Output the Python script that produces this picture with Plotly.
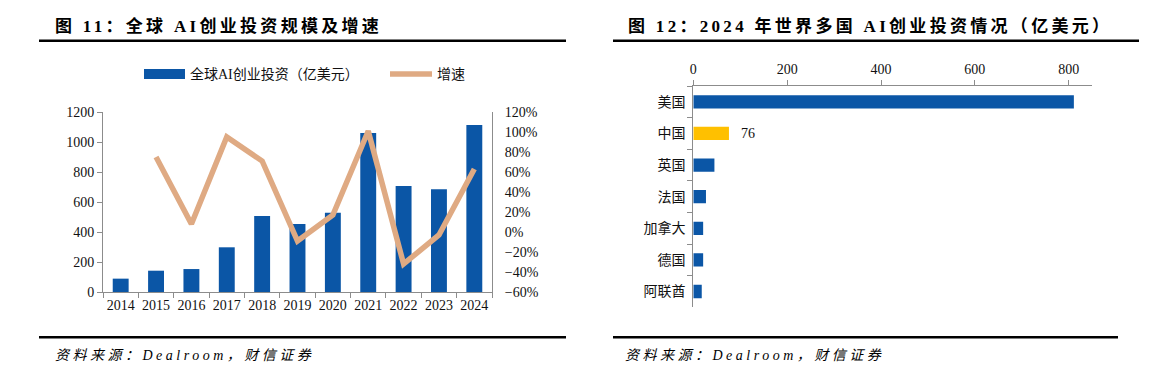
import plotly.graph_objects as go

# ---------------- data ----------------
years = ["2014", "2015", "2016", "2017", "2018", "2019", "2020", "2021", "2022", "2023", "2024"]
invest = [89, 142, 153, 298, 507, 453, 529, 1060, 707, 685, 1113]          # 亿美元
growth = [None, 75, 8, 95, 71, -9, 17, 101, -32, -3, 63]                    # %

countries = ["美国", "中国", "英国", "法国", "加拿大", "德国", "阿联酋"]
country_invest = [811, 76, 45, 27, 21, 21, 18]                              # 亿美元

left_title = "图 11：全球 AI创业投资规模及增速"
right_title = "图 12：2024 年世界多国 AI创业投资情况（亿美元）"
source_text = "资料来源：Dealroom，财信证券"
legend_bar = "全球AI创业投资（亿美元）"
legend_line = "增速"

# ---------------- style ----------------
W, H = 1176, 385
BLUE = "#0B56A6"
GOLD = "#FFC000"
TAN = "#DFAA83"
AXIS = "#8C8C8C"
SERIF_CJK = "Liberation Serif, Noto Sans CJK SC"
TXT = "#111111"


def px(x):
    return x / W


def py(y):
    return 1 - y / H


fig = go.Figure()

fig.add_trace(go.Bar(x=years, y=invest, marker=dict(color=BLUE, line=dict(width=0)),
                     xaxis="x", yaxis="y", showlegend=False))
fig.add_trace(go.Scatter(x=years, y=growth, mode="lines", line=dict(color=TAN, width=5.5),
                         xaxis="x", yaxis="y2", showlegend=False))

colors = [GOLD if c == "中国" else BLUE for c in countries]
fig.add_trace(go.Bar(y=countries, x=country_invest, orientation="h",
                     marker=dict(color=colors, line=dict(width=0)),
                     xaxis="x3", yaxis="y3", showlegend=False))

tickfont = dict(family="Liberation Serif", size=14, color=TXT)

fig.update_layout(
    width=W, height=H, margin=dict(l=0, r=0, t=0, b=0, autoexpand=False),
    paper_bgcolor="white", plot_bgcolor="white",
    bargap=0.55,
    xaxis=dict(domain=[px(103), px(492)], anchor="y", type="category", automargin=False,
               tickangle=0,
               showline=True, linecolor=AXIS, linewidth=1, ticks="outside", tickson="boundaries",
               ticklen=5, tickcolor=AXIS, tickfont=tickfont, showgrid=False, zeroline=False),
    yaxis=dict(domain=[py(292), py(112)], anchor="x", range=[0, 1200], dtick=200, automargin=False,
               showline=True, linecolor=AXIS, ticks="outside", ticklen=5, tickcolor=AXIS,
               tickfont=tickfont, showgrid=False, zeroline=False),
    yaxis2=dict(overlaying="y", side="right", anchor="x", range=[-60, 120], dtick=20,
                automargin=False,
                ticksuffix="%", showline=True, linecolor=AXIS, ticks="", ticklabelstandoff=9,
                tickfont=tickfont, showgrid=False, zeroline=False),
    xaxis3=dict(domain=[px(693.3), px(1091.7)], anchor="y3", side="top", range=[0, 849],
                automargin=False, tickangle=0,
                tickvals=[0, 200, 400, 600, 800], showline=True, linecolor=AXIS,
                ticks="outside", ticklen=5, tickcolor=AXIS, tickfont=tickfont,
                showgrid=False, zeroline=False),
    yaxis3=dict(domain=[py(307.3), py(86)], anchor="x3", type="category", autorange="reversed",
                automargin=False,
                showline=True, linecolor=AXIS, ticks="outside", tickson="boundaries", ticklen=5,
                tickcolor=AXIS, ticklabelstandoff=4,
                tickfont=dict(family=SERIF_CJK, size=14, color=TXT), showgrid=False, zeroline=False),
)
fig.update_traces(width=0.42, selector=dict(xaxis="x3"))

shapes = [
    # title underlines
    dict(type="rect", xref="paper", yref="paper", x0=px(39), x1=px(566), y0=py(42), y1=py(39.5),
         fillcolor="black", line=dict(width=0), layer="above"),
    dict(type="rect", xref="paper", yref="paper", x0=px(613), x1=px(1139), y0=py(42), y1=py(39.5),
         fillcolor="black", line=dict(width=0), layer="above"),
    # source lines
    dict(type="rect", xref="paper", yref="paper", x0=px(39), x1=px(566), y0=py(338.5), y1=py(336),
         fillcolor="black", line=dict(width=0), layer="above"),
    dict(type="rect", xref="paper", yref="paper", x0=px(613), x1=px(1118), y0=py(338.5), y1=py(336),
         fillcolor="black", line=dict(width=0), layer="above"),
    # legend swatches
    dict(type="rect", xref="paper", yref="paper", x0=px(144), x1=px(185), y0=py(79), y1=py(69),
         fillcolor=BLUE, line=dict(width=0)),
    dict(type="line", xref="paper", yref="paper", x0=px(390), x1=px(432), y0=py(74), y1=py(74),
         line=dict(color=TAN, width=5.5)),
]

annotations = [
    dict(text=left_title, x=px(53), y=py(26), xref="paper", yref="paper", xanchor="left",
         yanchor="middle", showarrow=False,
         font=dict(family=SERIF_CJK, size=17, color="black", weight="bold")),
    dict(text=right_title, x=px(626), y=py(26), xref="paper", yref="paper", xanchor="left",
         yanchor="middle", showarrow=False,
         font=dict(family=SERIF_CJK, size=17, color="black", weight="bold")),
    dict(text=source_text, x=px(53), y=py(355), xref="paper", yref="paper", xanchor="left",
         yanchor="middle", showarrow=False,
         font=dict(family=SERIF_CJK, size=14, color="black", style="italic")),
    dict(text=source_text, x=px(623), y=py(355), xref="paper", yref="paper", xanchor="left",
         yanchor="middle", showarrow=False,
         font=dict(family=SERIF_CJK, size=14, color="black", style="italic")),
    dict(text=legend_bar, x=px(188), y=py(74), xref="paper", yref="paper", xanchor="left",
         yanchor="middle", showarrow=False, font=dict(family=SERIF_CJK, size=14, color=TXT)),
    dict(text=legend_line, x=px(435), y=py(74), xref="paper", yref="paper", xanchor="left",
         yanchor="middle", showarrow=False, font=dict(family=SERIF_CJK, size=14, color=TXT)),
]

# value label for China
ci = countries.index("中国")
annotations.append(dict(text=str(country_invest[ci]), x=country_invest[ci], y=countries[ci],
                        xref="x3", yref="y3", xanchor="left", yanchor="middle", xshift=10,
                        showarrow=False, font=dict(family="Liberation Serif", size=14, color=TXT)))

fig.update_layout(shapes=shapes, annotations=annotations)

post = """
document.body.style.margin = '0';
document.body.style.padding = '0';
document.body.style.overflow = 'hidden';
document.querySelectorAll('g.annotation text').forEach(function(t){
  var s = t.textContent || '';
  var ls = null;
  if (s.indexOf('图') === 0) { ls = '3.3px'; }
  else if (s.indexOf('资料') === 0) { ls = '3.5px'; }
  if (ls) {
    var b = t.getBBox();
    t.style.letterSpacing = ls;
    t.setAttribute('text-anchor', 'start');
    t.setAttribute('x', b.x);
  }
});
"""

fig.write_html("out.html", post_script=post, config={"displayModeBar": False})
